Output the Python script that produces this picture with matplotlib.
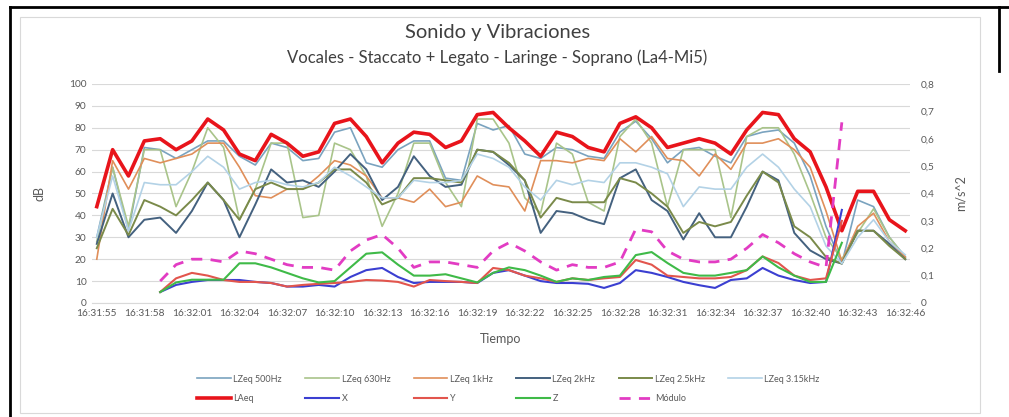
import numpy as np
import matplotlib
matplotlib.use("Agg")
import matplotlib.pyplot as plt
from matplotlib.lines import Line2D
from matplotlib.patches import Rectangle

plt.rcParams['font.family'] = ['Lato', 'DejaVu Sans']

# datos
tiempos = ['16:31:55', '16:31:56', '16:31:57', '16:31:58', '16:31:59', '16:32:00',
           '16:32:01', '16:32:02', '16:32:03', '16:32:04', '16:32:05', '16:32:06',
           '16:32:07', '16:32:08', '16:32:09', '16:32:10', '16:32:11', '16:32:12',
           '16:32:13', '16:32:14', '16:32:15', '16:32:16', '16:32:17', '16:32:18',
           '16:32:19', '16:32:20', '16:32:21', '16:32:22', '16:32:23', '16:32:24',
           '16:32:25', '16:32:26', '16:32:27', '16:32:28', '16:32:29', '16:32:30',
           '16:32:31', '16:32:32', '16:32:33', '16:32:34', '16:32:35', '16:32:36',
           '16:32:37', '16:32:38', '16:32:39', '16:32:40', '16:32:41', '16:32:42',
           '16:32:43', '16:32:44', '16:32:45', '16:32:46']

lz500 = [30, 62, 33, 71, 70, 66, 70, 74, 74, 67, 63, 73, 71, 65, 66, 78, 80, 64, 62, 70,
         74, 74, 57, 56, 82, 79, 81, 68, 66, 71, 70, 67, 66, 78, 83, 75, 64, 70, 71, 67,
         64, 76, 78, 79, 73, 58, 35, 18, 47, 44, 30, 21]
lz630 = [28, 62, 35, 70, 70, 44, 60, 80, 71, 38, 52, 73, 73, 39, 40, 73, 70, 58, 35, 50,
         73, 73, 55, 44, 84, 84, 73, 48, 41, 73, 68, 46, 42, 76, 84, 73, 44, 70, 70, 70,
         39, 76, 80, 80, 68, 50, 30, 20, 32, 43, 30, 21]
lz1k = [20, 65, 52, 66, 64, 66, 68, 73, 73, 62, 49, 48, 52, 52, 58, 65, 63, 58, 48, 48,
        46, 52, 44, 46, 58, 54, 53, 42, 65, 65, 64, 66, 65, 75, 69, 76, 66, 65, 58, 68,
        61, 73, 73, 75, 70, 62, 42, 19, 35, 41, 28, 21]
lz2k = [27, 50, 30, 38, 39, 32, 42, 55, 47, 30, 45, 61, 55, 56, 53, 60, 68, 61, 47, 53,
        67, 58, 53, 54, 70, 69, 63, 56, 32, 42, 41, 38, 36, 57, 61, 47, 42, 29, 41, 30,
        30, 44, 60, 56, 32, 24, 20, 18, 33, 33, 27, 20]
lz2_5k = [25, 43, 31, 47, 44, 40, 47, 55, 47, 38, 52, 55, 52, 52, 55, 61, 61, 55, 45, 48,
          57, 57, 56, 55, 70, 69, 64, 56, 39, 48, 46, 46, 46, 57, 55, 50, 44, 32, 37, 35,
          37, 49, 60, 55, 35, 30, 21, 18, 33, 33, 26, 20]
lz3_15k = [30, 58, 33, 55, 54, 54, 60, 67, 62, 52, 55, 56, 54, 53, 55, 62, 58, 53, 48, 48,
           56, 55, 55, 56, 68, 66, 62, 53, 47, 56, 54, 56, 55, 64, 64, 62, 59, 44, 53, 52,
           52, 62, 68, 62, 52, 44, 26, 18, 30, 38, 28, 22]
laeq = [44, 70, 58, 74, 75, 70, 74, 84, 79, 68, 65, 77, 73, 67, 69, 82, 84, 76, 64, 73,
        78, 77, 71, 74, 86, 87, 80, 74, 67, 78, 76, 71, 69, 82, 85, 80, 71, 73, 75, 73,
        68, 79, 87, 86, 75, 69, 53, 33, 51, 51, 38, 33]

# vibraciones (m/s^2), de 16:31:59 a 16:32:42
vib_ini = 4
vib_x = [0.04, 0.066, 0.077, 0.084, 0.084, 0.084, 0.077, 0.073, 0.06, 0.06, 0.066, 0.06,
         0.095, 0.12, 0.128, 0.095, 0.073, 0.077, 0.077, 0.077, 0.073, 0.11, 0.12, 0.10,
         0.08, 0.073, 0.073, 0.07, 0.055, 0.073, 0.12, 0.11, 0.095, 0.077, 0.065, 0.055,
         0.084, 0.09, 0.128, 0.10, 0.084, 0.073, 0.077, 0.34]
vib_y = [0.04, 0.09, 0.11, 0.10, 0.084, 0.077, 0.077, 0.073, 0.06, 0.066, 0.07, 0.073,
         0.077, 0.084, 0.082, 0.077, 0.06, 0.084, 0.08, 0.077, 0.073, 0.128, 0.12, 0.10,
         0.09, 0.077, 0.09, 0.084, 0.09, 0.095, 0.157, 0.14, 0.10, 0.095, 0.09, 0.09,
         0.095, 0.12, 0.17, 0.146, 0.10, 0.084, 0.09, 0.30]
vib_z = [0.04, 0.075, 0.085, 0.085, 0.085, 0.145, 0.145, 0.13, 0.11, 0.09, 0.075, 0.08,
         0.13, 0.18, 0.185, 0.14, 0.10, 0.10, 0.105, 0.09, 0.075, 0.11, 0.13, 0.12,
         0.10, 0.077, 0.09, 0.084, 0.095, 0.10, 0.175, 0.186, 0.146, 0.11, 0.10, 0.10,
         0.11, 0.12, 0.17, 0.13, 0.10, 0.077, 0.077, 0.22]
modulo = [0.08, 0.14, 0.16, 0.16, 0.15, 0.19, 0.18, 0.16, 0.14, 0.13, 0.13, 0.12,
          0.19, 0.23, 0.25, 0.20, 0.13, 0.15, 0.15, 0.14, 0.13, 0.19, 0.22, 0.19,
          0.15, 0.12, 0.14, 0.13, 0.13, 0.15, 0.27, 0.26, 0.19, 0.16, 0.15, 0.15,
          0.16, 0.20, 0.25, 0.22, 0.18, 0.15, 0.13, 0.66]

idx = np.arange(len(tiempos))
idx_vib = idx[vib_ini:vib_ini + len(vib_x)]

fig = plt.figure(figsize=(10.09, 4.17), dpi=100)
ax = fig.add_axes([0.0912, 0.2734, 0.8107, 0.5252])

gris = '#595959'
ax.plot(idx, lz500, color='#7aa3bf', lw=1.2, label='LZeq 500Hz')
ax.plot(idx, lz630, color='#a9c48a', lw=1.2, label='LZeq 630Hz')
ax.plot(idx, lz1k, color='#e08f5a', lw=1.2, label='LZeq 1kHz')
ax.plot(idx, lz2k, color='#44617f', lw=1.4, label='LZeq 2kHz')
ax.plot(idx, lz2_5k, color='#7a8a4a', lw=1.4, label='LZeq 2.5kHz')
ax.plot(idx, lz3_15k, color='#b3d2e6', lw=1.2, label='LZeq 3.15kHz')
ax.plot(idx, laeq, color='#e8141b', lw=2.6, label='LAeq')

ax.set_xlim(-0.3, 51.3)
ax.set_ylim(0, 100)
ax.set_yticks(range(0, 101, 10))
ax.set_xticks(idx[::3])
ax.set_xticklabels(tiempos[::3])
ax.grid(axis='y', color='#d9d9d9', lw=0.8)
ax.set_axisbelow(True)
for s in ['top', 'right', 'left']:
    ax.spines[s].set_visible(False)
ax.spines['bottom'].set_color('#d9d9d9')
ax.tick_params(length=0, labelsize=7.3, colors=gris, pad=4)
ax.set_ylabel('dB', fontsize=9, color=gris, labelpad=17)
ax.set_xlabel('Tiempo', fontsize=9, color=gris, labelpad=11)

ax2 = ax.twinx()
ax2.plot(idx_vib, vib_x, color='#3b3fd1', lw=1.5, label='X')
ax2.plot(idx_vib, vib_y, color='#e2554d', lw=1.5, label='Y')
ax2.plot(idx_vib, vib_z, color='#3fba48', lw=1.5, label='Z')
ax2.plot(idx_vib, modulo, color='#e23cc3', lw=2, ls=(0, (4, 3)), label='Módulo')
ax2.set_ylim(0, 0.8)
ax2.set_yticks(np.arange(0, 0.81, 0.1))
ax2.set_yticklabels(['0'] + ['0,%d' % i for i in range(1, 9)])
for s in ax2.spines.values():
    s.set_visible(False)
ax2.tick_params(length=0, labelsize=7.3, colors=gris, pad=8)
ax2.set_ylabel('m/s^2', fontsize=9, color=gris, labelpad=14)

fig.text(0.493, 0.923, 'Sonido y Vibraciones', ha='center', va='center', fontsize=14.5, color='#404040')
fig.text(0.493, 0.861, 'Vocales - Staccato + Legato - Laringe - Soprano (La4-Mi5)',
         ha='center', va='center', fontsize=12, color='#404040')

h1, l1 = ax.get_legend_handles_labels()
h2, l2 = ax2.get_legend_handles_labels()
fila1 = list(zip(h1[:6], l1[:6]))
fila2 = [(h1[6], l1[6])] + list(zip(h2, l2))
orden = []
for i in range(6):
    orden.append(fila1[i])
    if i < len(fila2):
        orden.append(fila2[i])
fig.legend([o[0] for o in orden], [o[1] for o in orden], ncol=6,
           loc='center', bbox_to_anchor=(0.504, 0.067), frameon=False,
           fontsize=6.5, handlelength=3.7, handletextpad=0.3, columnspacing=2.6,
           labelcolor=gris, borderaxespad=0, labelspacing=1.2)

# marco del grafico y bordes negros
fig.patches.append(Rectangle((0.02, 0.01), 0.951, 0.95, transform=fig.transFigure,
                             fill=False, edgecolor='#d9d9d9', lw=0.8))
fig.lines.append(Line2D([0.0099, 1.0], [0.983, 0.983], transform=fig.transFigure, color='black', lw=2))
fig.lines.append(Line2D([0.0099, 0.0099], [0.0, 0.983], transform=fig.transFigure, color='black', lw=2))
fig.lines.append(Line2D([0.99, 0.99], [0.83, 0.983], transform=fig.transFigure, color='black', lw=2))

plt.savefig('out.png', dpi=100)
